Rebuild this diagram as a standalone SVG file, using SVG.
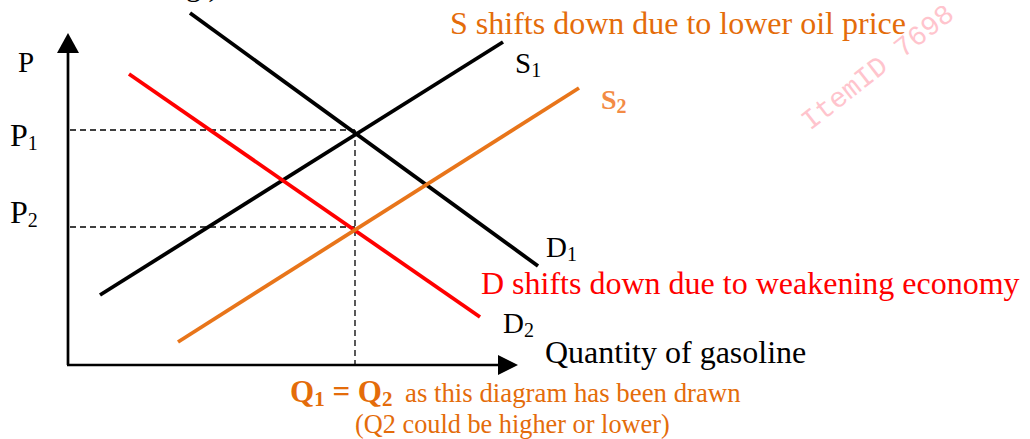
<svg xmlns="http://www.w3.org/2000/svg" width="1030" height="439" viewBox="0 0 1030 439">
<style>
text{font-family:"Liberation Serif","Times New Roman",serif;}
.lbl{font-size:29px;fill:#000;}
.sub{font-size:20px;}
.dash{stroke:#000;stroke-width:1.3;stroke-dasharray:6,4;fill:none;}
.axis{stroke:#000;stroke-width:2.7;fill:none;}
.curve{stroke-width:3.8;fill:none;}
</style>
<rect width="1030" height="439" fill="#fff"/>
<text x="186" y="-4" style="font-size:30px">g.)</text>
<g id="axes">
<line class="axis" x1="68" y1="365" x2="68" y2="52"/>
<path d="M68,33 L79,53 L57,53 Z" fill="#000"/>
<line class="axis" x1="67" y1="365" x2="499" y2="365"/>
<path d="M518,365 L498,355 L498,375 Z" fill="#000"/>
</g>
<g id="connectors">
<line class="dash" x1="70" y1="130" x2="355" y2="130"/>
<line class="dash" x1="70" y1="227" x2="355" y2="227"/>
<line class="dash" x1="355" y1="130" x2="355" y2="364"/>
</g>
<g id="D1"><line class="curve" stroke="#000" x1="190" y1="13" x2="538" y2="266"/></g>
<g id="S1"><line class="curve" stroke="#000" x1="100" y1="295" x2="503" y2="42"/></g>
<g id="D2"><line class="curve" stroke="#FF0000" x1="129" y1="74" x2="480" y2="317"/></g>
<g id="S2"><line class="curve" stroke="#E8751A" x1="178" y1="342" x2="579" y2="88"/></g>
<g id="labels">
<text x="18" y="72" style="font-size:29px">P</text>
<text x="10" y="146" style="font-size:32px">P<tspan class="sub" dy="4">1</tspan></text>
<text x="10" y="223" style="font-size:32px">P<tspan class="sub" dy="4">2</tspan></text>
<text class="lbl" x="515" y="73">S<tspan class="sub" dy="4">1</tspan></text>
<text x="601" y="109" style="font-size:28px;font-weight:bold;fill:#F38B45">S<tspan class="sub" dy="4">2</tspan></text>
<text class="lbl" x="546" y="257">D<tspan class="sub" dy="4">1</tspan></text>
<text class="lbl" x="503" y="333">D<tspan class="sub" dy="4">2</tspan></text>
<text x="450" y="34" style="font-size:32px;fill:#E46C0A">S shifts down due to lower oil price</text>
<text x="481" y="294" style="font-size:32px;fill:#FF0000">D shifts down due to weakening economy</text>
<text x="545" y="363" style="font-size:32px;fill:#000">Quantity of gasoline</text>
<text x="290" y="402" style="font-size:31px;fill:#E46C0A"><tspan font-weight="bold">Q<tspan style="font-size:21px" dy="4">1</tspan><tspan dy="-4"> = Q</tspan><tspan style="font-size:21px" dy="4">2</tspan></tspan><tspan dy="-4" x="405" style="font-size:26.8px">as this diagram has been drawn</tspan></text>
<text x="355" y="433" style="font-size:26.3px;fill:#E46C0A">(Q2 could be higher or lower)</text>
</g>
<text x="810" y="131" transform="rotate(-38 810 131)" style="font-family:'Liberation Mono','DejaVu Sans Mono',monospace;font-size:28px;fill:#FFB6C1;opacity:0.8">ItemID 7698</text>
</svg>
